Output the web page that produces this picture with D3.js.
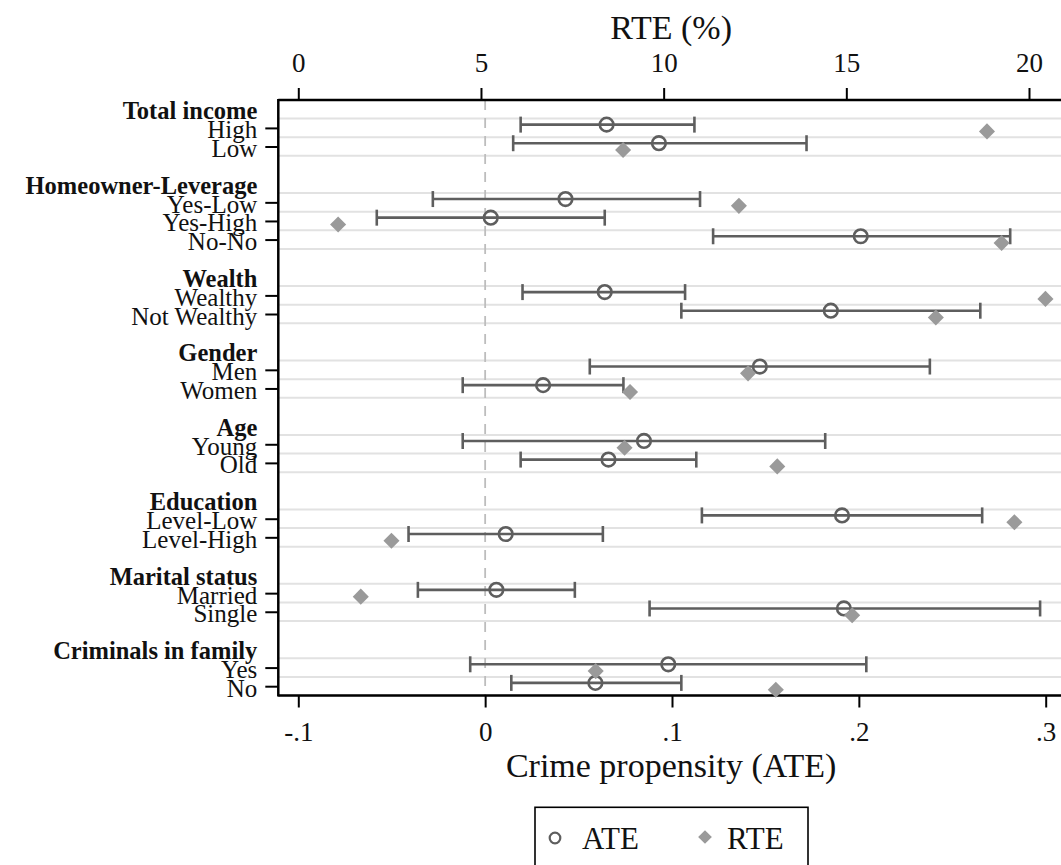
<!DOCTYPE html>
<html>
<head>
<meta charset="utf-8">
<script src="https://cdn.jsdelivr.net/npm/d3@7"></script>
<style>
  body { margin: 0; background: #fff; }
  svg { display: block; font-family: "Liberation Serif", "DejaVu Serif", serif; }
</style>
</head>
<body>
<script>
// groups and their categories (top to bottom)
var groups = ['Total income', 'Homeowner-Leverage', 'Wealth', 'Gender', 'Age', 'Education', 'Marital status', 'Criminals in family'];
var groupCats = [
    ['High', 'Low'],
    ['Yes-Low', 'Yes-High', 'No-No'],
    ['Wealthy', 'Not Wealthy'],
    ['Men', 'Women'],
    ['Young', 'Old'],
    ['Level-Low', 'Level-High'],
    ['Married', 'Single'],
    ['Yes', 'No']
];

// ATE point estimate with confidence interval, RTE in %
var ate    = [0.065, 0.093, 0.043, 0.003, 0.201, 0.064, 0.185, 0.147, 0.031, 0.085, 0.066, 0.191, 0.011, 0.006, 0.192, 0.098, 0.059];
var ciLow  = [0.019, 0.015, -0.028, -0.058, 0.122, 0.020, 0.105, 0.056, -0.012, -0.012, 0.019, 0.116, -0.041, -0.036, 0.088, -0.008, 0.014];
var ciHigh = [0.112, 0.172, 0.115, 0.064, 0.281, 0.107, 0.265, 0.238, 0.074, 0.182, 0.113, 0.266, 0.063, 0.048, 0.297, 0.204, 0.105];
var rte    = [18.85, 8.89, 12.06, 1.09, 19.25, 20.45, 17.45, 12.31, 9.08, 8.93, 13.11, 19.60, 2.55, 1.71, 15.16, 8.14, 13.07];

var ateTicks = [-0.1, 0, 0.1, 0.2, 0.3];
var ateTickLabels = ['-.1', '0', '.1', '.2', '.3'];
var rteTicks = [0, 5, 10, 15, 20];

drawChart();

function drawChart() {

    var width = 1061, height = 865;
    var plotLeft = 278.3, plotRight = 1064, plotTop = 100, plotBottom = 695.5;

    // lay out slots: header, categories, one gap slot between groups
    var rows = [], headers = [], slot = 0, k = 0;
    groups.forEach(function(g, gi) {
        if (gi > 0) slot += 1;
        headers.push({ name: g, slot: slot });
        slot += 1;
        groupCats[gi].forEach(function(c) {
            rows.push({ name: c, slot: slot, ate: ate[k], lo: ciLow[k], hi: ciHigh[k], rte: rte[k] });
            slot += 1; k += 1;
        });
    });
    var nSlots = slot;

    var x = d3.scaleLinear().domain([-0.1, 0.3]).range([298.3, 1045.7]);
    var xr = d3.scaleLinear().domain([0, 20]).range([298.3, 1029]);
    var y = d3.scaleLinear().domain([0, nSlots]).range([plotTop, plotBottom]);

    var svg = d3.select('body').append('svg')
        .attr('width', width)
        .attr('height', height);

    // gridlines at category boundaries
    var gridY = [];
    headers.forEach(function(h, gi) {
        for (var i = 1; i <= groupCats[gi].length + 1; i++) gridY.push(h.slot + i);
    });
    svg.append('g').selectAll('line')
        .data(gridY)
        .enter().append('line')
            .attr('x1', plotLeft).attr('x2', plotRight)
            .attr('y1', function(d) { return y(d); })
            .attr('y2', function(d) { return y(d); })
            .attr('stroke', '#e2e2e2')
            .attr('stroke-width', 2);

    // zero reference line
    svg.append('line')
        .attr('x1', x(0)).attr('x2', x(0))
        .attr('y1', plotTop).attr('y2', plotBottom)
        .attr('stroke', '#bdbdbd')
        .attr('stroke-width', 1.8)
        .attr('stroke-dasharray', '10,8');

    // axes
    var gBottom = svg.append('g')
        .attr('transform', 'translate(0,' + plotBottom + ')')
        .call(d3.axisBottom(x).tickValues(ateTicks)
            .tickFormat(function(d, i) { return ateTickLabels[i]; })
            .tickSize(12).tickPadding(14));
    gBottom.select('.domain').attr('d', 'M' + plotLeft + ',0H' + plotRight).attr('stroke', '#000').attr('stroke-width', 2.5);

    var gTop = svg.append('g')
        .attr('transform', 'translate(0,' + plotTop + ')')
        .call(d3.axisTop(xr).tickValues(rteTicks).tickSize(12).tickPadding(16));
    gTop.select('.domain').attr('d', 'M' + plotLeft + ',0H' + plotRight).attr('stroke', '#000').attr('stroke-width', 2.5);

    var gLeft = svg.append('g')
        .attr('transform', 'translate(' + plotLeft + ',0)')
        .call(d3.axisLeft(y).tickValues(rows.map(function(r) { return r.slot + 0.5; }))
            .tickFormat(function(d, i) { return rows[i].name; })
            .tickSize(13).tickPadding(8));
    gLeft.select('.domain').attr('d', 'M0,' + (plotTop - 1) + 'V' + (plotBottom + 1)).attr('stroke', '#000').attr('stroke-width', 2.5);

    [gBottom, gTop, gLeft].forEach(function(g) {
        g.attr('font-family', null).attr('font-size', null);
        g.selectAll('.tick line').attr('stroke', '#000').attr('stroke-width', 2);
        g.selectAll('.tick text').attr('fill', '#111');
    });
    gBottom.selectAll('.tick text').style('font-size', '27px');
    gTop.selectAll('.tick text').style('font-size', '27px');
    gLeft.selectAll('.tick text').style('font-size', '25px').attr('dy', '10px');

    // group headers
    svg.append('g').selectAll('text')
        .data(headers)
        .enter().append('text')
            .attr('x', plotLeft - 21)
            .attr('y', function(d) { return y(d.slot + 0.5) + 10; })
            .attr('text-anchor', 'end')
            .style('font-size', '24.5px')
            .style('font-weight', 'bold')
            .attr('fill', '#111')
            .text(function(d) { return d.name; });

    // axis titles
    svg.append('text')
        .attr('x', (plotLeft + plotRight) / 2).attr('y', 39)
        .attr('text-anchor', 'middle')
        .style('font-size', '34px')
        .attr('fill', '#111')
        .text('RTE (%)');

    svg.append('text')
        .attr('x', (plotLeft + plotRight) / 2).attr('y', 777)
        .attr('text-anchor', 'middle')
        .style('font-size', '34px')
        .attr('fill', '#111')
        .text('Crime propensity (ATE)');

    // ATE confidence intervals
    var ateOff = -3.3, rteOff = 3.5;
    var barColor = '#5e5e5e';
    var marks = svg.append('g');

    marks.selectAll('line.ci')
        .data(rows)
        .enter().append('line')
            .attr('class', 'ci')
            .attr('x1', function(d) { return x(d.lo); })
            .attr('x2', function(d) { return x(d.hi); })
            .attr('y1', function(d) { return y(d.slot + 0.5) + ateOff; })
            .attr('y2', function(d) { return y(d.slot + 0.5) + ateOff; })
            .attr('stroke', barColor)
            .attr('stroke-width', 2.6);

    ['lo', 'hi'].forEach(function(key) {
        marks.selectAll('line.cap-' + key)
            .data(rows)
            .enter().append('line')
                .attr('class', 'cap-' + key)
                .attr('x1', function(d) { return x(d[key]); })
                .attr('x2', function(d) { return x(d[key]); })
                .attr('y1', function(d) { return y(d.slot + 0.5) + ateOff - 8; })
                .attr('y2', function(d) { return y(d.slot + 0.5) + ateOff + 8; })
                .attr('stroke', barColor)
                .attr('stroke-width', 2.6);
    });

    marks.selectAll('circle.ate')
        .data(rows)
        .enter().append('circle')
            .attr('class', 'ate')
            .attr('cx', function(d) { return x(d.ate); })
            .attr('cy', function(d) { return y(d.slot + 0.5) + ateOff; })
            .attr('r', 6.8)
            .attr('fill', 'none')
            .attr('stroke', barColor)
            .attr('stroke-width', 2.6);

    var diamond = d3.symbol().type(d3.symbolDiamond2).size(165);

    marks.selectAll('path.rte')
        .data(rows)
        .enter().append('path')
            .attr('class', 'rte')
            .attr('d', diamond)
            .attr('transform', function(d) { return 'translate(' + xr(d.rte) + ',' + (y(d.slot + 0.5) + rteOff) + ')'; })
            .attr('fill', '#9a9a9a');

    // legend
    var legend = svg.append('g');
    legend.append('rect')
        .attr('x', 535).attr('y', 807.3)
        .attr('width', 273).attr('height', 80)
        .attr('fill', 'none')
        .attr('stroke', '#000')
        .attr('stroke-width', 1.6);
    legend.append('circle')
        .attr('cx', 555).attr('cy', 838)
        .attr('r', 5.3)
        .attr('fill', 'none')
        .attr('stroke', barColor)
        .attr('stroke-width', 2.2);
    legend.append('text')
        .attr('x', 582).attr('y', 848.5)
        .style('font-size', '31px')
        .attr('fill', '#111')
        .text('ATE');
    legend.append('path')
        .attr('d', d3.symbol().type(d3.symbolDiamond2).size(120))
        .attr('transform', 'translate(705,837)')
        .attr('fill', '#9a9a9a');
    legend.append('text')
        .attr('x', 727).attr('y', 848.5)
        .style('font-size', '31px')
        .attr('fill', '#111')
        .text('RTE');
}
</script>
</body>
</html>
